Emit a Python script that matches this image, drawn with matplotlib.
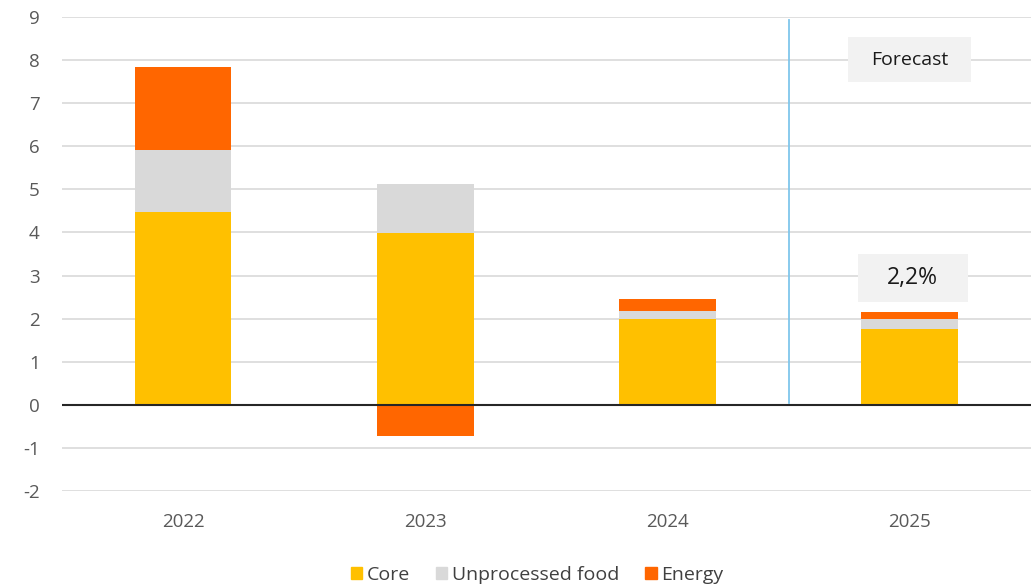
import matplotlib.pyplot as plt
from matplotlib.patches import Patch, Rectangle
import numpy as np

years = ["2022", "2023", "2024", "2025"]
core = [4.48, 3.99, 2.0, 1.76]
food = [1.43, 1.14, 0.18, 0.24]
energy = [1.92, -0.72, 0.28, 0.16]
forecast_total = "2,2%"

c_core = "#ffc000"
c_food = "#d9d9d9"
c_energy = "#ff6600"

plt.rcParams["font.family"] = ["Open Sans", "DejaVu Sans"]
plt.rcParams["axes.unicode_minus"] = False

fig = plt.figure(figsize=(10.31, 5.88), dpi=100)
ax = fig.add_axes([0.060, 0.165, 0.940, 0.806])

x = np.arange(len(years))
w = 0.4
core = np.array(core)
food = np.array(food)
energy = np.array(energy)

ax.bar(x, core, w, color=c_core, zorder=2)
ax.bar(x, food, w, bottom=core, color=c_food, zorder=2)
# negative energy contributions hang below zero
en_bottom = np.where(energy >= 0, core + food, 0)
ax.bar(x, energy, w, bottom=en_bottom, color=c_energy, zorder=2)

ax.set_xlim(-0.5, 3.5)
ax.set_ylim(-2, 9)
ax.set_yticks(range(-2, 10))
ax.set_xticks(x)
ax.set_xticklabels(years)
ax.grid(axis="y", color="#d9d9d9", lw=1.2, zorder=0)
ax.axhline(0, color="#262626", lw=1.5, zorder=3)
for s in ax.spines.values():
    s.set_visible(False)
ax.tick_params(length=0, labelsize=13.5, colors="#595959")
ax.tick_params(axis="y", pad=16)
ax.tick_params(axis="x", pad=16)

# forecast divider
ax.plot([2.5, 2.5], [0.05, 8.93], color="#7fc6ec", lw=1.3, zorder=3)

# label boxes
ax.add_patch(Rectangle((2.746, 7.50), 0.508, 1.04, fc="#f2f2f2", ec="none", zorder=4))
ax.text(3, 8.0, "Forecast", ha="center", va="center", fontsize=14, color="#1a1a1a", zorder=5)
ax.add_patch(Rectangle((2.788, 2.39), 0.453, 1.11, fc="#f2f2f2", ec="none", zorder=4))
ax.text(3.01, 2.95, forecast_total, ha="center", va="center", fontsize=16.5, color="#1a1a1a",
        zorder=5)

handles = [Patch(color=c_core, label="Core"),
           Patch(color=c_food, label="Unprocessed food"),
           Patch(color=c_energy, label="Energy")]
leg = fig.legend(handles=handles, loc="center", bbox_to_anchor=(0.521, 0.022), ncol=3,
                 frameon=False, fontsize=14, handlelength=0.6, handleheight=0.6,
                 handletextpad=0.25, columnspacing=1.3)
for t in leg.get_texts():
    t.set_color("#404040")

fig.savefig("out.png", dpi=100)
